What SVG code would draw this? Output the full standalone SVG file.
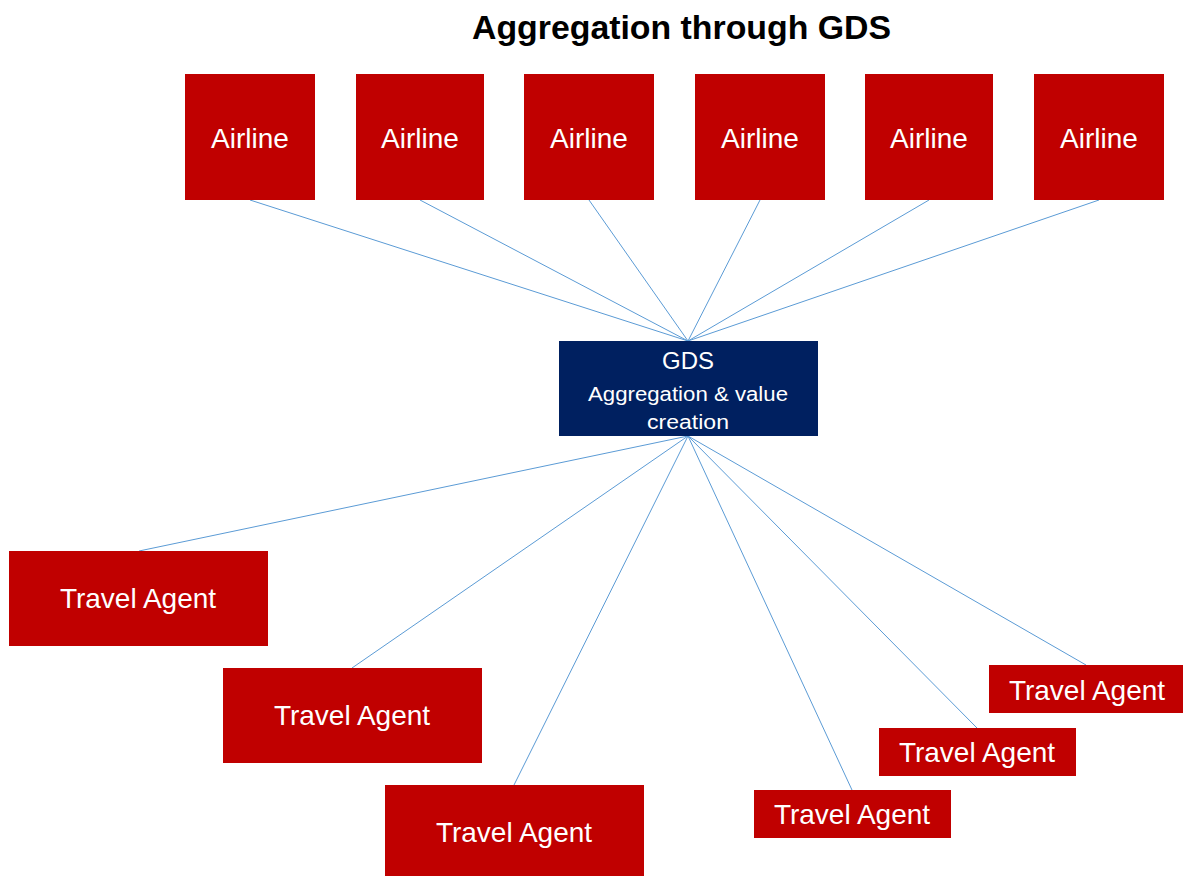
<svg xmlns="http://www.w3.org/2000/svg" width="1183" height="876" viewBox="0 0 1183 876">
<style>
.red{fill:#C00000}
.navy{fill:#002060}
.lbl{font-family:"Liberation Sans",Arial,sans-serif;fill:#fff;text-anchor:middle}
.big{font-size:28px}
.conn line{stroke:#5B9BD5;stroke-width:1}
.title{font-family:"Liberation Sans",Arial,sans-serif;font-weight:bold;font-size:33px;fill:#000;text-anchor:middle}
</style>
<rect width="1183" height="876" fill="#fff"/>
<text class="title" x="681.5" y="39" textLength="419" lengthAdjust="spacingAndGlyphs">Aggregation through GDS</text>
<g id="connectors" class="conn">
<line x1="250" y1="200" x2="688" y2="341"/>
<line x1="420" y1="200" x2="688" y2="341"/>
<line x1="589" y1="200" x2="688" y2="341"/>
<line x1="760" y1="200" x2="688" y2="341"/>
<line x1="929" y1="200" x2="688" y2="341"/>
<line x1="1099" y1="200" x2="688" y2="341"/>
<line x1="688" y1="436" x2="139" y2="551"/>
<line x1="688" y1="436" x2="352" y2="668"/>
<line x1="688" y1="436" x2="514" y2="785"/>
<line x1="688" y1="436" x2="852" y2="790"/>
<line x1="688" y1="436" x2="977" y2="728"/>
<line x1="688" y1="436" x2="1086" y2="665"/>
</g>
<g id="airline1"><rect class="red" x="185" y="74" width="130" height="126"/><text class="lbl big" x="250" y="148">Airline</text></g>
<g id="airline2"><rect class="red" x="356" y="74" width="128" height="126"/><text class="lbl big" x="420" y="148">Airline</text></g>
<g id="airline3"><rect class="red" x="524" y="74" width="130" height="126"/><text class="lbl big" x="589" y="148">Airline</text></g>
<g id="airline4"><rect class="red" x="695" y="74" width="130" height="126"/><text class="lbl big" x="760" y="148">Airline</text></g>
<g id="airline5"><rect class="red" x="865" y="74" width="128" height="126"/><text class="lbl big" x="929" y="148">Airline</text></g>
<g id="airline6"><rect class="red" x="1034" y="74" width="130" height="126"/><text class="lbl big" x="1099" y="148">Airline</text></g>
<g id="gds"><rect class="navy" x="559" y="341" width="259" height="95"/>
<text class="lbl" x="688" y="369" font-size="24">GDS</text>
<text class="lbl" x="688" y="401" font-size="20" textLength="200" lengthAdjust="spacingAndGlyphs">Aggregation &amp; value</text>
<text class="lbl" x="688" y="429" font-size="20" textLength="82" lengthAdjust="spacingAndGlyphs">creation</text></g>
<g id="agent1"><rect class="red" x="9" y="551" width="259" height="95"/><text class="lbl big" x="138" y="608">Travel Agent</text></g>
<g id="agent2"><rect class="red" x="223" y="668" width="259" height="95"/><text class="lbl big" x="352" y="725">Travel Agent</text></g>
<g id="agent3"><rect class="red" x="385" y="785" width="259" height="91"/><text class="lbl big" x="514" y="842">Travel Agent</text></g>
<g id="agent4"><rect class="red" x="754" y="790" width="197" height="48"/><text class="lbl big" x="852" y="824">Travel Agent</text></g>
<g id="agent5"><rect class="red" x="879" y="728" width="197" height="48"/><text class="lbl big" x="977" y="762">Travel Agent</text></g>
<g id="agent6"><rect class="red" x="989" y="665" width="194" height="48"/><text class="lbl big" x="1087" y="700">Travel Agent</text></g>
</svg>
